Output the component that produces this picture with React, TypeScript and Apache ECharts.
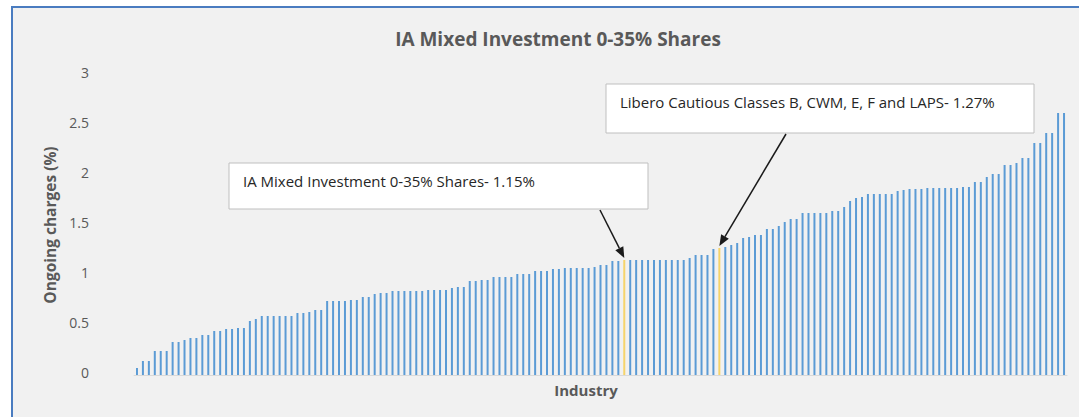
import React, { useEffect, useRef } from "react";
import * as echarts from "echarts";

// Ongoing charges (%) of the funds in the sector, sorted ascending
const values: number[] = [
  0.07, 0.14, 0.14, 0.24, 0.24, 0.24, 0.33, 0.33, 0.35, 0.37,
  0.37, 0.40, 0.40, 0.44, 0.44, 0.46, 0.46, 0.47, 0.47, 0.54,
  0.56, 0.59, 0.59, 0.59, 0.59, 0.59, 0.59, 0.62, 0.62, 0.63,
  0.65, 0.65, 0.74, 0.74, 0.74, 0.74, 0.75, 0.75, 0.78, 0.78,
  0.81, 0.82, 0.82, 0.84, 0.84, 0.84, 0.84, 0.84, 0.84, 0.85,
  0.85, 0.85, 0.85, 0.87, 0.88, 0.88, 0.94, 0.94, 0.95, 0.95,
  0.98, 0.98, 0.98, 0.98, 1.01, 1.01, 1.01, 1.04, 1.04, 1.04,
  1.06, 1.06, 1.07, 1.07, 1.07, 1.07, 1.07, 1.08, 1.10, 1.10,
  1.14, 1.14, 1.15, 1.15, 1.15, 1.15, 1.15, 1.15, 1.15, 1.15,
  1.15, 1.15, 1.15, 1.17, 1.20, 1.20, 1.20, 1.26, 1.27, 1.28,
  1.30, 1.32, 1.37, 1.38, 1.40, 1.40, 1.46, 1.46, 1.49, 1.53,
  1.56, 1.56, 1.62, 1.62, 1.62, 1.62, 1.62, 1.64, 1.64, 1.68,
  1.74, 1.77, 1.78, 1.81, 1.81, 1.81, 1.81, 1.81, 1.84, 1.85,
  1.86, 1.86, 1.86, 1.87, 1.87, 1.87, 1.87, 1.87, 1.87, 1.88,
  1.88, 1.93, 1.93, 1.98, 2.01, 2.01, 2.10, 2.10, 2.12, 2.17,
  2.17, 2.32, 2.32, 2.42, 2.42, 2.62, 2.62,
];
const categories: string[] = values.map((_, i) => `Fund ${i + 1}`);

// highlighted funds (0-based index) and their call-out labels
const highlightIndex: number[] = [82, 98];
const highlightLabels: string[] = [
  "IA Mixed Investment 0-35% Shares- 1.15%",
  "Libero Cautious Classes B, CWM, E, F and LAPS- 1.27%",
];

const titleText = "IA Mixed Investment 0-35% Shares";
const yAxisName = "Ongoing charges (%)";
const xAxisName = "Industry";

const FONT = "'Open Sans', 'Noto Sans', sans-serif";

export default function App() {
  const ref = useRef<HTMLDivElement>(null);

  useEffect(() => {
    if (!ref.current) return;
    const chart = echarts.init(ref.current, null, { renderer: "svg" });
    chart.setOption({
      animation: false,
      backgroundColor: "#ffffff",
      title: {
        text: titleText,
        left: 553,
        top: 24,
        textAlign: "center",
        textStyle: { fontFamily: FONT, fontSize: 19, fontWeight: "bold", color: "#595959" },
      },
      grid: { left: 134, right: 12, top: 75, bottom: 42 },
      xAxis: {
        type: "category",
        data: categories,
        name: xAxisName,
        nameLocation: "middle",
        nameGap: 7,
        nameTextStyle: {
          fontFamily: FONT,
          fontSize: 15,
          fontWeight: "bold",
          color: "#595959",
          padding: [0, 29, 0, 0],
          verticalAlign: "top",
        },
        axisLabel: { show: false },
        axisTick: { show: false },
        axisLine: { show: true, lineStyle: { color: "#d9d9d9", width: 1 } },
      },
      yAxis: {
        type: "value",
        min: 0,
        max: 3,
        interval: 0.5,
        name: yAxisName,
        nameLocation: "middle",
        nameGap: 73,
        nameTextStyle: { fontFamily: FONT, fontSize: 15.5, fontWeight: "bold", color: "#595959" },
        splitLine: { show: false },
        axisLine: { show: false },
        axisTick: { show: false },
        axisLabel: {
          margin: 45,
          fontFamily: FONT,
          fontSize: 14,
          color: "#595959",
          verticalAlign: "bottom",
          lineHeight: 6,
          formatter: (v: number) => String(v),
        },
      },
      series: [
        {
          type: "bar",
          data: values.map((v, i) =>
            highlightIndex.includes(i)
              ? { value: v, itemStyle: { color: "#f6d46a" } }
              : v
          ),
          barWidth: 2,
          itemStyle: { color: "#5b9bd5" },
        },
      ],
    });

    // call-out boxes and arrows, arrow tips placed at the bar tops via the chart's scales
    const boxes = [
      { x: 229, y: 163, w: 419, h: 46, tail: [600, 210] },
      { x: 606, y: 84, w: 428, h: 49, tail: [786, 134] },
    ];
    const graphics: any[] = [
      {
        type: "rect",
        z: -100,
        silent: true,
        shape: { x: 12, y: 7, width: 1200, height: 600 },
        style: { fill: "#f1f1f1", stroke: "#4a7cc0", lineWidth: 2 },
      },
    ];
    highlightIndex.forEach((idx, k) => {
      const b = boxes[k];
      const tip = chart.convertToPixel({ seriesIndex: 0 }, [idx, values[idx]]) as number[];
      const tx = tip[0];
      const ty = tip[1] - 2;
      const [sx, sy] = b.tail;
      const dx = tx - sx;
      const dy = ty - sy;
      const len = Math.sqrt(dx * dx + dy * dy);
      const ux = dx / len;
      const uy = dy / len;
      const headL = 11;
      const headW = 4.5;
      const bx = tx - ux * headL;
      const by = ty - uy * headL;
      graphics.push(
        {
          type: "rect",
          z: 10,
          shape: { x: b.x, y: b.y, width: b.w, height: b.h },
          style: { fill: "#ffffff", stroke: "#bfbfbf", lineWidth: 1 },
        },
        {
          type: "text",
          z: 11,
          x: b.x + 14,
          y: b.y + 18,
          style: {
            text: highlightLabels[k],
            fontFamily: FONT,
            fontSize: 15,
            fill: "#262626",
            verticalAlign: "middle",
          },
        },
        {
          type: "line",
          z: 12,
          shape: { x1: sx, y1: sy, x2: bx, y2: by },
          style: { stroke: "#1a1a1a", lineWidth: 1.5 },
        },
        {
          type: "polygon",
          z: 12,
          shape: {
            points: [
              [tx, ty],
              [bx - uy * headW, by + ux * headW],
              [bx + uy * headW, by - ux * headW],
            ],
          },
          style: { fill: "#1a1a1a" },
        }
      );
    });
    chart.setOption({ graphic: graphics });

    return () => chart.dispose();
  }, []);

  return (
    <div
      ref={ref}
      style={{ position: "fixed", left: 0, top: 0, width: 1079, height: 417 }}
    />
  );
}
